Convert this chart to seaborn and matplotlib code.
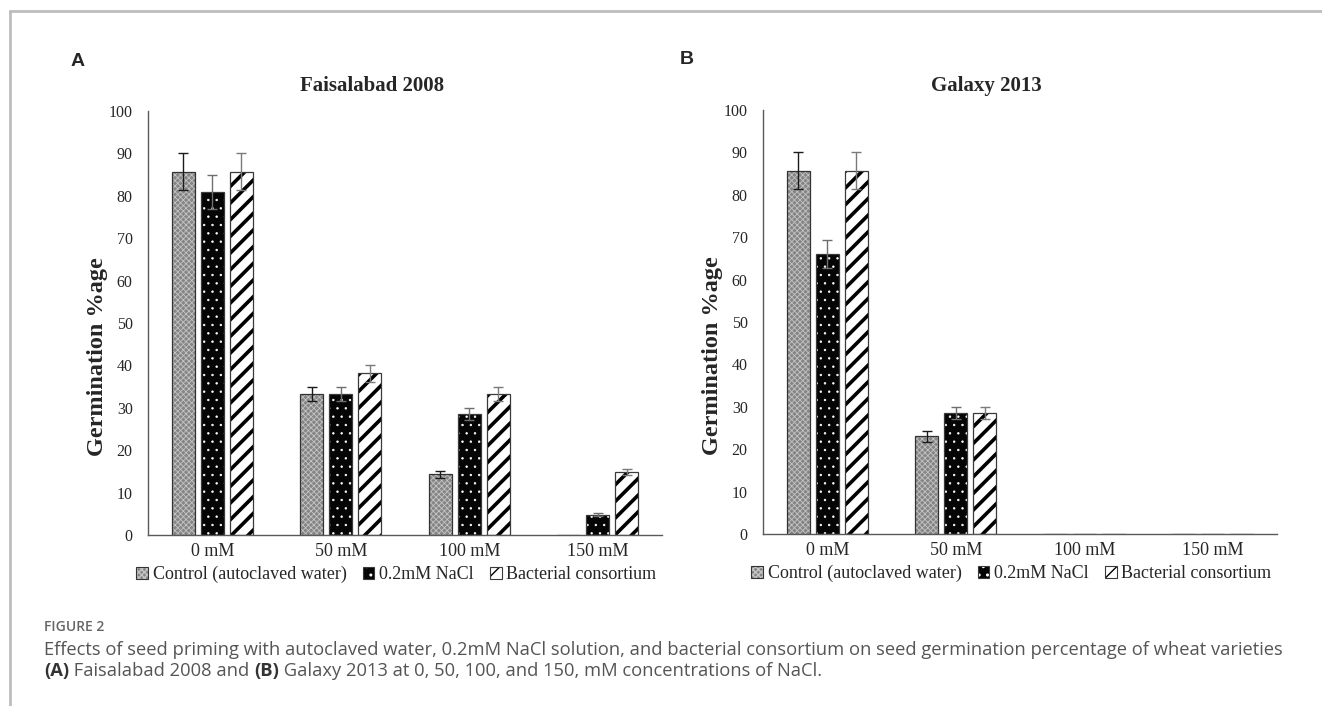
import numpy as np
import pandas as pd
import matplotlib
matplotlib.use("Agg")
import matplotlib.pyplot as plt
from matplotlib.patches import Patch
from matplotlib.lines import Line2D
from matplotlib.colors import to_rgba
import seaborn as sns

# ---- data -------------------------------------------------------------
concentrations = ["0 mM", "50 mM", "100 mM", "150 mM"]
treatments = ["Control (autoclaved water)", "0.2mM NaCl", "Bacterial consortium"]

# Faisalabad 2008 germination (%) per treatment, and error bars
fsd_control = [85.7, 33.3, 14.3, 0.0]
fsd_nacl = [81.0, 33.3, 28.6, 4.8]
fsd_bact = [85.7, 38.1, 33.3, 14.8]
fsd_control_err = [4.3, 1.6, 0.8, 0.0]
fsd_nacl_err = [4.0, 1.6, 1.4, 0.3]
fsd_bact_err = [4.3, 1.9, 1.6, 0.7]

# Galaxy 2013 germination (%) per treatment, and error bars
glx_control = [85.7, 23.0, 0.0, 0.0]
glx_nacl = [66.0, 28.6, 0.0, 0.0]
glx_bact = [85.7, 28.6, 0.0, 0.0]
glx_control_err = [4.3, 1.2, 0.0, 0.0]
glx_nacl_err = [3.3, 1.4, 0.0, 0.0]
glx_bact_err = [4.3, 1.4, 0.0, 0.0]

y_ticks = list(range(0, 101, 10))

# ---- style ------------------------------------------------------------
sns.set_style("white")
plt.rcParams["font.family"] = ["Liberation Serif", "DejaVu Serif"]
plt.rcParams["hatch.linewidth"] = 1.0

# fill, outline, hatch pattern, hatch colour, hatch width, error colour
bar_styles = [
    dict(face="#858585", edge="#333333", hatch="xxxxxx", hcol="#c4c4c4", hlw=0.6, ecol="#1a1a1a"),
    dict(face="#050505", edge="#3a3a3a", hatch="..", hcol="#ffffff", hlw=0.5, ecol="#6e6e6e"),
    dict(face="#ffffff", edge="#3a3a3a", hatch="//", hcol="#000000", hlw=2.6, ecol="#7a7a7a"),
]


def style_patch(p, st):
    p.set_facecolor(st["face"])
    p.set_edgecolor(st["edge"])
    p.set_linewidth(0.9)
    p.set_hatch(st["hatch"])
    p._hatch_color = to_rgba(st["hcol"])
    if hasattr(p, "set_hatch_linewidth"):
        p.set_hatch_linewidth(st["hlw"])
    else:
        p._hatch_linewidth = st["hlw"]


def panel(ax, series, errors):
    df = pd.DataFrame({
        "conc": np.tile(concentrations, len(treatments)),
        "treatment": np.repeat(treatments, len(concentrations)),
        "value": np.concatenate(series),
    })
    sns.barplot(data=df, x="conc", y="value", hue="treatment",
                order=concentrations, hue_order=treatments,
                width=0.677, gap=0.2, errorbar=None, legend=False, ax=ax)
    for cont, st, err in zip(ax.containers, bar_styles, errors):
        xs, ys, es = [], [], []
        for bar, e in zip(cont, err):
            style_patch(bar, st)
            if bar.get_height() > 0:
                xs.append(bar.get_x() + bar.get_width() / 2)
                ys.append(bar.get_height())
                es.append(e)
        ax.errorbar(xs, ys, yerr=es, fmt="none", ecolor=st["ecol"],
                    elinewidth=1.0, capsize=3.8, capthick=1.0, zorder=5)

    ax.set_ylim(0, 100)
    ax.set_xlim(-0.5, len(concentrations) - 0.5)
    ax.set_yticks(y_ticks)
    ax.set_xlabel("")
    ax.set_ylabel("Germination %age", fontsize=17.5, fontweight="bold")
    ax.yaxis.set_label_coords(-0.078, 0.42)
    ax.tick_params(axis="y", length=0, pad=11, labelsize=11.5)
    ax.tick_params(axis="x", length=0, pad=6, labelsize=13)
    for s in ["top", "right"]:
        ax.spines[s].set_visible(False)
    for s in ["left", "bottom"]:
        ax.spines[s].set_color("#595959")
        ax.spines[s].set_linewidth(1.0)

    handles = []
    for st in bar_styles:
        h = Patch(facecolor=st["face"], edgecolor=st["edge"], hatch=st["hatch"], linewidth=0.8)
        h._hatch_color = to_rgba(st["hcol"])
        handles.append(h)
    ax.legend(handles, treatments, loc="center", bbox_to_anchor=(0.483, -0.093),
              ncol=3, frameon=False, fontsize=13, handlelength=0.65, handleheight=0.65,
              handletextpad=0.25, columnspacing=0.9, borderaxespad=0)


fig = plt.figure(figsize=(13.22, 7.06), dpi=100)
W, H = 1322, 706
ax_a = fig.add_axes([148 / W, 1 - 535 / H, 514 / W, 424 / H])
ax_b = fig.add_axes([763 / W, 1 - 534 / H, 514 / W, 424 / H])

panel(ax_a, [fsd_control, fsd_nacl, fsd_bact],
      [fsd_control_err, fsd_nacl_err, fsd_bact_err])
panel(ax_b, [glx_control, glx_nacl, glx_bact],
      [glx_control_err, glx_nacl_err, glx_bact_err])

# chart titles and panel letters
fig.text(372 / W, 1 - 86 / H, "Faisalabad 2008", ha="center", va="center",
         fontsize=15, fontweight="bold")
fig.text(986 / W, 1 - 86 / H, "Galaxy 2013", ha="center", va="center",
         fontsize=15, fontweight="bold")
fig.text(78 / W, 1 - 62 / H, "A", ha="center", va="center", fontsize=14,
         fontweight="bold", family=["Liberation Sans", "DejaVu Sans"])
fig.text(687 / W, 1 - 60 / H, "B", ha="center", va="center", fontsize=14,
         fontweight="bold", family=["Liberation Sans", "DejaVu Sans"])

# outer frame (top and left rules)
fig.add_artist(Line2D([10 / W, 1], [1 - 10.5 / H, 1 - 10.5 / H], color="#bdbdbd", lw=2.0))
fig.add_artist(Line2D([10 / W, 10 / W], [0, 1 - 10.5 / H], color="#bdbdbd", lw=2.0))

# caption
cap_font = ["Open Sans", "DejaVu Sans"]
fig.text(44 / W, 1 - 627 / H, "FIGURE 2", ha="left", va="center", fontsize=10,
         fontweight="semibold", color="#666666", family=cap_font)
fig.text(44 / W, 1 - 650 / H,
         "Effects of seed priming with autoclaved water, 0.2mM NaCl solution, and bacterial "
         "consortium on seed germination percentage of wheat varieties",
         ha="left", va="center", fontsize=13.25, color="#555555", family=cap_font)

parts = [("(A)", "bold"), (" Faisalabad 2008 and ", "normal"), ("(B)", "bold"),
         (" Galaxy 2013 at 0, 50, 100, and 150, mM concentrations of NaCl.", "normal")]
renderer = fig.canvas.get_renderer()
x = 44
for txt, wt in parts:
    t = fig.text(x / W, 1 - 671 / H, txt, ha="left", va="center", fontsize=13.25,
                 fontweight=wt, color="#333333" if wt == "bold" else "#555555",
                 family=cap_font)
    x += t.get_window_extent(renderer=renderer).width

fig.savefig("out.png", dpi=100)
